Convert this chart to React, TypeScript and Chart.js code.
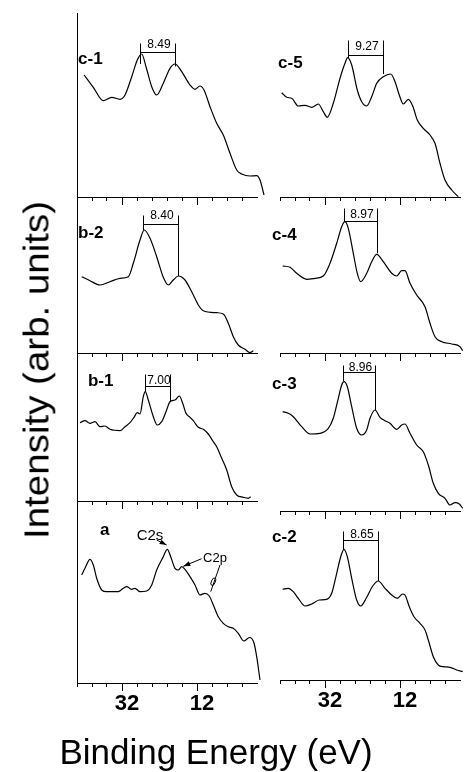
import React, { useEffect, useRef } from "react";
import { Chart, registerables } from "chart.js";

Chart.register(...registerables);

const FONT = "'Liberation Sans', Arial, Helvetica, sans-serif";

// ---------- binding-energy axis (eV) ----------
const ENERGY_MIN = -4;
const ENERGY_MAX = 44;
const MINOR_TICKS = [44, 40, 36, 32, 28, 24, 20, 16, 12, 8, 4, 0];
const MAJOR_TICKS = [32, 12];

// ---------- spectra (binding energy eV, intensity arb. units) ----------
const c1Energy = [42.1, 39.65, 36.99, 34.75, 32.53, 31.2, 29.41, 27.92, 26.75, 25.6, 24.08, 22.75, 20.99, 19.2, 17.87, 16.08, 13.87, 12.53, 11.2, 10.13, 8.53, 6.75, 4.99, 3.2, 1.41, 0.08, -2.13, -3.92, -4.8, -5.87];
const c1Intensity = [122, 109.7, 96.3, 99.7, 97.7, 102, 120.3, 137, 143, 130.3, 110.3, 102, 113.7, 128.7, 133, 125.3, 112, 107.7, 111, 107, 90.3, 73.7, 62, 43.7, 27, 23, 21, 21.3, 17, 2];

const c5Energy = [43.55, 42.21, 40.88, 39.12, 37.33, 35.55, 33.79, 32.45, 31.39, 29.79, 28, 26.67, 25.95, 24.88, 23.39, 22.21, 20.88, 19.55, 18.21, 16.45, 14.48, 13.33, 12.19, 11.12, 9.79, 8.61, 7.39, 5.79, 4, 2.67, 1.33, 0, -1.79, -3.55];
const c5Intensity = [104.3, 99.7, 98.7, 91, 91.7, 89.7, 93, 85.3, 79.7, 93.7, 118.7, 133.7, 139.3, 132, 107, 95.3, 91, 100.3, 113.7, 120.3, 123, 115.3, 102, 93, 97.7, 91, 77, 68.7, 62, 53.7, 33.7, 17, 7, 0.3];

const b2Energy = [42.75, 40.53, 37.87, 35.2, 32.53, 30.32, 28.99, 27.2, 26.05, 24.53, 22.75, 20.99, 19.65, 18.32, 16.99, 15.2, 13.41, 11.65, 10.32, 6.75, 4.99, 3.65, 2.32, 0.99, -0.8, -2.13, -3.01];
const b2Intensity = [76.3, 72.3, 68, 71.3, 74.7, 76.3, 89.7, 113, 123, 114.7, 96.3, 75.7, 68, 73, 77, 73, 61.3, 48, 42.3, 40.3, 39, 29.7, 16.3, 8, 3.7, 0.3, 2.3];

const c4Energy = [43.28, 41.33, 39.55, 36.88, 34.67, 32.45, 30.67, 28.88, 27.55, 26.67, 25.79, 24.45, 23.39, 22.48, 20.88, 19.55, 18.21, 16.45, 14.21, 12.88, 11.55, 10.67, 9.33, 7.55, 5.33, 4, 2.67, 0.88, -1.79, -4, -4.72];
const c4Intensity = [87, 85.7, 79.7, 73.7, 74.7, 77, 89.7, 109.7, 126.3, 131.3, 124.7, 99.7, 79.7, 71.3, 79.7, 91.3, 98.7, 91.3, 79.7, 77, 82.3, 82.3, 69.7, 58, 46.3, 29.7, 16.3, 11.3, 9, 6.3, 2.3];

const b1Energy = [43.2, 41.87, 40.53, 39.2, 37.87, 36.53, 35.2, 32.53, 31.2, 29.87, 28.8, 27.92, 27.2, 26.32, 25.79, 24.99, 23.65, 22.59, 21.41, 20.27, 19.2, 17.87, 16.72, 15.81, 14.93, 13.87, 12.99, 11.65, 10.32, 8.99, 7.65, 6.75, 5.41, 4.08, 2.75, 1.41, -0.35, -1.68, -2.32];
const b1Intensity = [78.3, 80.3, 77.7, 79.3, 74.3, 75, 71.7, 70.3, 74.3, 78.3, 83.7, 88.3, 87, 104.3, 109.3, 101, 84.3, 76, 79.3, 89.3, 99.3, 101, 105, 97.7, 87.7, 83.7, 80.3, 73.7, 71.7, 67, 59.3, 54.3, 42.7, 31, 14.3, 6, 3.7, 2.7, 4.3];

const c3Energy = [43.28, 41.79, 40.45, 38.21, 36, 33.33, 31.12, 29.79, 28.45, 27.55, 26.93, 26.05, 24.88, 23.55, 22.21, 20.88, 20, 18.67, 17.33, 16, 14.67, 12.88, 11.55, 10.67, 9.33, 7.55, 5.79, 4.45, 3.12, 1.79, 0, -1.33, -2.67, -3.81, -4.72];
const c3Intensity = [99.3, 97.7, 94.3, 84.3, 77, 77.7, 82.7, 92.7, 112.7, 126, 129.3, 124.3, 104.3, 82.7, 76, 81, 92.7, 101, 93.7, 90.3, 87.7, 81.7, 86, 87, 77.7, 66, 59.3, 46, 27.7, 17.7, 12.7, 6, 8.3, 7, 2.7];

const aEnergy = [42.75, 41.87, 40.53, 39.65, 38.75, 37.41, 36.08, 32.99, 31.65, 30.75, 29.41, 28.53, 27.2, 25.41, 24.08, 22.75, 20.99, 19.92, 19.01, 17.87, 16.99, 16.08, 15.2, 13.87, 12.53, 11.2, 9.87, 8.72, 7.65, 6.32, 4.99, 3.65, 2.32, 0.99, -0.5, -2.0, -3.2, -3.92, -4.8];
const aIntensity = [108, 114.7, 123.7, 118, 104.7, 93, 91.3, 91.3, 94.7, 96.3, 93.7, 94.7, 91.3, 92, 98, 113, 126.3, 133.7, 126.3, 114.7, 113, 116.3, 113.7, 106.3, 98, 88, 89.7, 87, 78, 66.3, 59.7, 56.3, 54.7, 49.7, 42, 45.5, 40, 26.3, 3];

const c2Energy = [43.28, 41.79, 40.45, 39.12, 37.33, 35.55, 33.52, 31.55, 30.21, 28.88, 27.81, 26.93, 26.05, 24.88, 23.55, 22.48, 20.88, 19.28, 17.79, 16, 14.21, 12.72, 11.28, 10.67, 9.52, 8.27, 6.67, 5.33, 4.45, 3.12, 1.79, 0.45, -1.33, -3.12, -4.72];
const c2Intensity = [90.7, 91.7, 88.3, 81.7, 74, 76, 80, 80.7, 86.7, 106.7, 123.3, 130.7, 123.3, 101.7, 80, 74, 82.7, 94, 99, 91.7, 85, 81.7, 86, 85, 73.3, 63.3, 56.7, 50, 40, 23.3, 15, 13.3, 12.7, 10, 8.3];

// ---------- peak-separation brackets (eV / intensity) ----------
const c1Bracket = { peakA: 27.2, peakB: 17.87, top: 154, bar: 145.3, endA: 133, endB: 130.5, label: "8.49", labelAt: 152 };
const c5Bracket = { peakA: 25.95, peakB: 16.61, top: 157, bar: 142, endA: 139, endB: 123, label: "9.27", labelAt: 150.3 };
const b2Bracket = { peakA: 26.32, peakB: 16.99, top: 138, bar: 128.7, endA: 123, endB: 77, label: "8.40", labelAt: 137 };
const c4Bracket = { peakA: 26.93, peakB: 18.21, top: 144.7, bar: 132, endA: 131, endB: 99.7, label: "8.97", labelAt: 138 };
const b1Bracket = { peakA: 25.87, peakB: 19.2, top: 126.7, bar: 115, endA: 109.3, endB: 99.3, label: "7.00", labelAt: 120.2 };
const c3Bracket = { peakA: 27.28, peakB: 18.67, top: 146, bar: 139.3, endA: 130, endB: 101, label: "8.96", labelAt: 143 };
const c2Bracket = { peakA: 27.11, peakB: 17.79, top: 149, bar: 140, endA: 130.7, endB: 99, label: "8.65", labelAt: 145.8 };

// ---------- assignment notes in spectrum a ----------
const aNoteLabels = [
  { text: "C2s", at: [24.53, 147.2], size: 15 },
  { text: "C2p", at: [7.2, 124.5], size: 13 },
];
const aNoteArrows = [
  { from: [22.75, 143], to: [20.08, 138] },
  { from: [10.77, 124.3], to: [15.65, 116.7] },
];
const aNoteLines = [{ from: [5.87, 118], to: [8.35, 91.3] }];
const aNoteMarks = [[7.65, 101.3]];

// ---------- layout ----------
const COL_LEFT = [77, 280];
const AREA_W = 180;
const PAD_L = 26;
const PAD_R = 22;

type Panel = {
  name: string;
  energy: number[];
  intensity: number[];
  bracket: any;
  nameAt: number[];
  col: number;
  top: number;
  bottom: number;
  last: boolean;
  notes?: boolean;
};

const PANELS: Panel[] = [
  { name: "c-1", energy: c1Energy, intensity: c1Intensity, bracket: c1Bracket, nameAt: [43.73, 138], col: 0, top: 13, bottom: 197, last: false },
  { name: "b-2", energy: b2Energy, intensity: b2Intensity, bracket: b2Bracket, nameAt: [43.73, 120], col: 0, top: 197, bottom: 353, last: false },
  { name: "b-1", energy: b1Energy, intensity: b1Intensity, bracket: b1Bracket, nameAt: [41.07, 119.3], col: 0, top: 353, bottom: 501, last: false },
  { name: "a", energy: aEnergy, intensity: aIntensity, bracket: null, nameAt: [37.87, 153], col: 0, top: 501, bottom: 683, last: true, notes: true },
  { name: "c-5", energy: c5Energy, intensity: c5Intensity, bracket: c5Bracket, nameAt: [44.53, 134], col: 1, top: 13, bottom: 197, last: false },
  { name: "c-4", energy: c4Energy, intensity: c4Intensity, bracket: c4Bracket, nameAt: [46.13, 118], col: 1, top: 197, bottom: 353, last: false },
  { name: "c-3", energy: c3Energy, intensity: c3Intensity, bracket: c3Bracket, nameAt: [46.13, 127], col: 1, top: 353, bottom: 511, last: false },
  { name: "c-2", energy: c2Energy, intensity: c2Intensity, bracket: c2Bracket, nameAt: [46.13, 142.7], col: 1, top: 511, bottom: 680, last: true },
];

const decorPlugin = {
  id: "panelDecor",
  afterDraw(chart: any, _args: any, opts: any) {
    const p: Panel = opts.panel;
    if (!p) return;
    const ctx = chart.ctx;
    const xs = chart.scales.x;
    const ys = chart.scales.y;
    const X = (v: number) => xs.getPixelForValue(v);
    const Y = (v: number) => ys.getPixelForValue(v);
    const A = (v: number) => Math.round(v) + 0.5;
    ctx.save();
    ctx.strokeStyle = "#000";
    ctx.fillStyle = "#000";
    ctx.lineWidth = 1;

    // longer major ticks
    const axisY = xs.top;
    for (const v of MAJOR_TICKS) {
      const x = A(X(v));
      ctx.beginPath();
      ctx.moveTo(x, axisY);
      ctx.lineTo(x, axisY + 8);
      ctx.stroke();
    }

    // panel name
    ctx.font = `bold 17px ${FONT}`;
    ctx.textAlign = "left";
    ctx.textBaseline = "middle";
    ctx.fillText(p.name, X(p.nameAt[0]), Y(p.nameAt[1]));

    // bracket
    const b = p.bracket;
    if (b) {
      const xa = A(X(b.peakA));
      const xb = A(X(b.peakB));
      const yt = A(Y(b.top));
      const ybar = A(Y(b.bar));
      ctx.beginPath();
      ctx.moveTo(xa, yt);
      ctx.lineTo(xa, Y(b.endA));
      ctx.moveTo(xb, yt);
      ctx.lineTo(xb, Y(b.endB));
      ctx.moveTo(xa, ybar);
      ctx.lineTo(xb, ybar);
      ctx.stroke();
      ctx.font = `12px ${FONT}`;
      ctx.textAlign = "center";
      ctx.fillText(b.label, (xa + xb) / 2 + 1, Y(b.labelAt));
    }

    if (p.notes) {
      for (const l of aNoteLabels) {
        ctx.font = `${l.size}px ${FONT}`;
        ctx.textAlign = "center";
        ctx.fillText(l.text, X(l.at[0]), Y(l.at[1]));
      }
      for (const ar of aNoteArrows) {
        const x1 = X(ar.from[0]), y1 = Y(ar.from[1]);
        const x2 = X(ar.to[0]), y2 = Y(ar.to[1]);
        ctx.beginPath();
        ctx.moveTo(x1, y1);
        ctx.lineTo(x2, y2);
        ctx.stroke();
        const ang = Math.atan2(y2 - y1, x2 - x1);
        const hl = 7, hw = 2.5;
        ctx.beginPath();
        ctx.moveTo(x2, y2);
        ctx.lineTo(x2 - hl * Math.cos(ang) + hw * Math.sin(ang), y2 - hl * Math.sin(ang) - hw * Math.cos(ang));
        ctx.lineTo(x2 - hl * Math.cos(ang) - hw * Math.sin(ang), y2 - hl * Math.sin(ang) + hw * Math.cos(ang));
        ctx.closePath();
        ctx.fill();
      }
      for (const ln of aNoteLines) {
        ctx.beginPath();
        ctx.moveTo(X(ln.from[0]), Y(ln.from[1]));
        ctx.lineTo(X(ln.to[0]), Y(ln.to[1]));
        ctx.stroke();
      }
      for (const m of aNoteMarks) {
        ctx.beginPath();
        ctx.ellipse(X(m[0]), Y(m[1]), 2, 4, 0.4, 0, Math.PI * 2);
        ctx.stroke();
      }
    }
    ctx.restore();
  },
};

function PanelChart({ panel }: { panel: Panel }) {
  const ref = useRef<HTMLCanvasElement>(null);
  const areaLeft = COL_LEFT[panel.col];
  const areaH = panel.bottom - panel.top;
  const axisH = panel.last ? 50 : 12;
  const w = AREA_W + PAD_L + PAD_R;
  const h = areaH + axisH;

  useEffect(() => {
    if (!ref.current) return;
    const showY = panel.col === 0;
    const chart = new Chart(ref.current, {
      type: "line",
      data: {
        datasets: [
          {
            data: panel.energy.map((e, i) => ({ x: e, y: panel.intensity[i] })),
            borderColor: "#000",
            borderWidth: 1.2,
            pointRadius: 0,
            cubicInterpolationMode: "monotone",
            fill: false,
            clip: false as any,
          },
        ],
      },
      options: {
        animation: false,
        responsive: false,
        devicePixelRatio: 1,
        events: [],
        layout: { padding: { left: PAD_L, right: PAD_R, top: 0, bottom: 0 } },
        plugins: {
          legend: { display: false },
          tooltip: { enabled: false },
          panelDecor: { panel },
        } as any,
        scales: {
          x: {
            type: "linear",
            reverse: true,
            min: ENERGY_MIN,
            max: ENERGY_MAX,
            afterBuildTicks: (s: any) => {
              s.ticks = MINOR_TICKS.map((v) => ({ value: v }));
            },
            afterFit: (s: any) => {
              s.height = axisH;
            },
            grid: { drawOnChartArea: false, drawTicks: true, tickLength: 4, color: "#000", lineWidth: 1 },
            border: { display: true, color: "#000", width: 1 },
            ticks: {
              autoSkip: false,
              maxRotation: 0,
              minRotation: 0,
              padding: 4,
              labelOffset: 5,
              color: "#000",
              font: { family: FONT, size: 22, weight: "bold" },
              callback: (v: any) => (panel.last && MAJOR_TICKS.includes(Number(v)) ? String(v) : ""),
            },
          },
          y: {
            display: showY,
            min: 0,
            max: areaH,
            afterFit: (s: any) => {
              s.width = 0;
            },
            ticks: { display: false },
            grid: { display: true, drawOnChartArea: false, drawTicks: false, color: "#000" },
            border: { display: true, color: "#000", width: 1 },
          },
        },
      } as any,
      plugins: [decorPlugin as any],
    });
    return () => chart.destroy();
  }, []);

  return (
    <canvas
      ref={ref}
      width={w}
      height={h}
      style={{ position: "absolute", left: areaLeft - PAD_L, top: panel.top, width: w, height: h }}
    />
  );
}

export default function App() {
  return (
    <div
      style={{
        position: "absolute",
        left: 0,
        top: 0,
        width: 464,
        height: 772,
        background: "#fff",
        overflow: "hidden",
        fontFamily: FONT,
        color: "#000",
      }}
    >
      {PANELS.map((p) => (
        <PanelChart key={p.name} panel={p} />
      ))}
      <div
        style={{
          position: "absolute",
          left: 36,
          top: 370,
          transform: "translate(-50%, -50%) rotate(-90deg) scaleX(1.1)",
          fontSize: 35,
          lineHeight: 1,
          whiteSpace: "nowrap",
        }}
      >
        Intensity (arb. units)
      </div>
      <div
        style={{
          position: "absolute",
          left: 216,
          top: 751,
          transform: "translate(-50%, -50%)",
          fontSize: 35,
          lineHeight: 1,
          whiteSpace: "nowrap",
        }}
      >
        Binding Energy (eV)
      </div>
    </div>
  );
}
